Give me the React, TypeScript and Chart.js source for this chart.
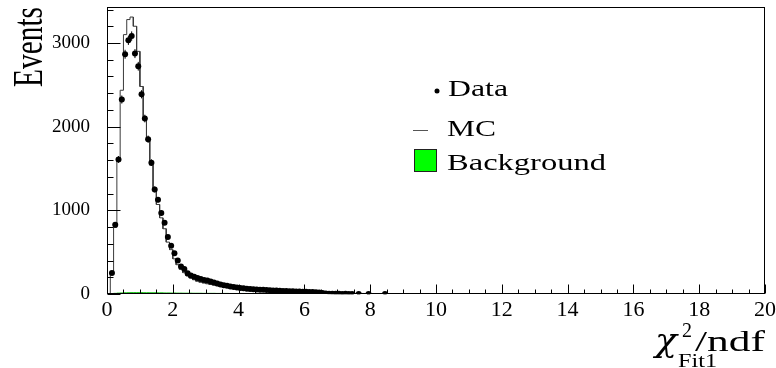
import React, { useEffect, useRef } from "react";
import { Chart, registerables } from "chart.js";

Chart.register(...registerables);

// ---- Data ----
const X_MIN = 0;
const X_MAX = 20;
const BIN_WIDTH = 0.1;
const Y_MAX = 3430;
const X_TICKS = [0, 2, 4, 6, 8, 10, 12, 14, 16, 18, 20];
const Y_TICKS = [0, 1000, 2000, 3000];

// Data counts per 0.1-wide bin, 0..20 (200 bins)
const DATA_COUNTS = [
  0, 250, 827, 1608, 2324, 2865, 3032, 3083, 2873, 2722,
  2387, 2097, 1850, 1570, 1250, 1126, 968, 853, 680, 578,
  486, 400, 330, 300, 247, 222, 205, 190, 178, 168,
  160, 148, 136, 125, 115, 106, 98, 90, 83, 77,
  72, 68, 64, 61, 58, 55, 52, 50, 47, 45,
  43, 41, 39, 37, 35, 34, 32, 31, 29, 28,
  27, 25, 23, 21, 18, 12, 6, 4, 3, 2,
  2, 1, 2, 1, 1, 0, 1, 0, 0, 1,
  0, 0, 0, 0, 1, 0, 0, 0, 0, 0,
  0, 0, 0, 0, 0, 0, 0, 0, 0, 0,
  0, 0, 0, 0, 0, 0, 0, 0, 0, 0,
  0, 0, 0, 0, 0, 0, 0, 0, 0, 0,
  0, 0, 0, 0, 0, 0, 0, 0, 0, 0,
  0, 0, 0, 0, 0, 0, 0, 0, 0, 0,
  0, 0, 0, 0, 0, 0, 0, 0, 0, 0,
  0, 0, 0, 0, 0, 0, 0, 0, 0, 0,
  0, 0, 0, 0, 0, 0, 0, 0, 0, 0,
  0, 0, 0, 0, 0, 0, 0, 0, 0, 0,
  0, 0, 0, 0, 0, 0, 0, 0, 0, 0,
  0, 0, 0, 0, 0, 0, 0, 0, 0, 0,
];

// MC prediction per bin
const MC_COUNTS = [
  0, 266, 796, 1600, 2435, 3100, 3280, 3310, 3200, 2900,
  2480, 2120, 1830, 1540, 1260, 1070, 910, 780, 620, 530,
  420, 350, 295, 255, 215, 190, 170, 152, 140, 130,
  122, 114, 106, 99, 92, 86, 80, 74, 69, 64,
  60, 56, 52, 49, 46, 43, 41, 39, 37, 35,
  33, 31, 30, 28, 27, 25, 24, 23, 22, 21,
  20, 19, 18, 17, 16, 15, 14, 13, 12, 11,
  10, 9.5, 9, 8.5, 8, 7.5, 7, 6.5, 6, 5.5,
  5, 5, 4.5, 4.5, 4, 4, 3.5, 3.5, 3, 3,
  3, 2.5, 2.5, 2.5, 2, 2, 2, 2, 1.5, 1.5,
  1.5, 1.5, 1.4, 1.4, 1.3, 1.3, 1.2, 1.2, 1.1, 1.1,
  1, 1, 1, 0.9, 0.9, 0.9, 0.8, 0.8, 0.8, 0.7,
  0.7, 0.7, 0.7, 0.6, 0.6, 0.6, 0.6, 0.5, 0.5, 0.5,
  0.5, 0.5, 0.4, 0.4, 0.4, 0.4, 0.4, 0.4, 0.3, 0.3,
  0.3, 0.3, 0.3, 0.3, 0.3, 0.3, 0.2, 0.2, 0.2, 0.2,
  0.2, 0.2, 0.2, 0.2, 0.2, 0.2, 0.2, 0.1, 0.1, 0.1,
  0.1, 0.1, 0.1, 0.1, 0.1, 0.1, 0.1, 0.1, 0.1, 0.1,
  0.1, 0.1, 0.1, 0.1, 0.1, 0.1, 0.1, 0.1, 0.1, 0.1,
  0.1, 0.1, 0.1, 0.1, 0.1, 0.1, 0.1, 0.1, 0.1, 0.1,
  0.1, 0.1, 0.1, 0.1, 0.1, 0.1, 0.1, 0.1, 0.1, 0.1,
];

// Background per bin (only the first few units are non-zero)
const BKG_COUNTS = [
  0, 4, 8, 11, 13, 15, 16, 17, 17, 17,
  17, 16, 16, 15, 15, 14, 14, 13, 13, 12,
  12, 11, 11, 10, 10, 10, 9, 9, 9, 8,
  8, 8, 8, 7, 7, 7, 7, 6, 6, 6,
  6, 6, 5, 5, 5, 5, 5, 5, 4, 4,
  4, 4, 4, 4, 3, 3, 3, 3, 3, 3,
  2, 2, 2, 1, 1, 1,
];

const LEGEND_LABELS = ["Data", "MC", "Background"];
const Y_TITLE = "Events";
const X_TITLE_MAIN = "χ";
const X_TITLE_SUP = "2";
const X_TITLE_SUB = "Fit1";
const X_TITLE_TAIL = "/ndf";

const SERIF = "'Liberation Serif', 'DejaVu Serif', serif";
const GREEN = "#00ff00";

function stepPoints(counts: number[]) {
  const pts: { x: number; y: number }[] = [];
  counts.forEach((v, i) => {
    pts.push({ x: X_MIN + i * BIN_WIDTH, y: v });
    pts.push({ x: X_MIN + (i + 1) * BIN_WIDTH, y: v });
  });
  pts.push({ x: X_MIN + counts.length * BIN_WIDTH, y: 0 });
  return pts;
}

function dataPoints(counts: number[]) {
  const pts: { x: number; y: number }[] = [];
  counts.forEach((v, i) => {
    if (v > 0) pts.push({ x: X_MIN + (i + 0.5) * BIN_WIDTH, y: v });
  });
  return pts;
}

function fitText(
  ctx: CanvasRenderingContext2D,
  text: string,
  x: number,
  y: number,
  font: string,
  width: number
) {
  ctx.save();
  ctx.font = font;
  const w = ctx.measureText(text).width;
  ctx.translate(x, y);
  ctx.scale(width / w, 1);
  ctx.textAlign = "left";
  ctx.textBaseline = "alphabetic";
  ctx.fillStyle = "#000";
  ctx.fillText(text, 0, 0);
  ctx.restore();
}

const decorPlugin = {
  id: "decor",
  afterDatasetsDraw(chart: any) {
    const ctx: CanvasRenderingContext2D = chart.ctx;
    const xs = chart.scales.x;
    const ys = chart.scales.y;
    const area = chart.chartArea;

    // error bars for data
    ctx.save();
    ctx.strokeStyle = "#000";
    ctx.lineWidth = 1;
    DATA_COUNTS.forEach((v, i) => {
      if (v <= 0) return;
      const c = X_MIN + (i + 0.5) * BIN_WIDTH;
      const px = xs.getPixelForValue(c);
      const py = ys.getPixelForValue(v);
      const e = Math.sqrt(v);
      ctx.beginPath();
      ctx.moveTo(px, ys.getPixelForValue(v + e));
      ctx.lineTo(px, ys.getPixelForValue(Math.max(0, v - e)));
      ctx.moveTo(xs.getPixelForValue(c - BIN_WIDTH / 2), py);
      ctx.lineTo(xs.getPixelForValue(c + BIN_WIDTH / 2), py);
      ctx.stroke();
    });
    ctx.restore();

    // frame
    ctx.save();
    ctx.strokeStyle = "#000";
    ctx.lineWidth = 1;
    const L = Math.round(area.left) + 0.5;
    const R = Math.round(area.right) - 0.5;
    const T = Math.round(area.top) + 0.5;
    const B = Math.round(area.bottom) - 0.5;
    ctx.strokeRect(L, T, R - L, B - T);

    // y ticks (inward): major every 1000, minor every 200
    ctx.beginPath();
    for (let k = 0; k * 200 <= Y_MAX; k++) {
      const v = k * 200;
      const py = Math.round(ys.getPixelForValue(v)) + 0.5;
      const major = k % 5 === 0;
      ctx.moveTo(L, py);
      ctx.lineTo(L + (major ? 13 : 6), py);
    }
    // x ticks (inward): major every 2, minor every 0.5
    for (let k = 0; k <= (X_MAX - X_MIN) * 2; k++) {
      const v = X_MIN + k * 0.5;
      const px = Math.round(xs.getPixelForValue(v)) + 0.5;
      const major = k % 4 === 0;
      ctx.moveTo(px, B);
      ctx.lineTo(px, B - (major ? 9 : 4));
    }
    ctx.stroke();
    ctx.restore();

    // y title rotated
    ctx.save();
    ctx.font = `34px ${SERIF}`;
    const w = ctx.measureText(Y_TITLE).width;
    ctx.translate(41.5, 87);
    ctx.rotate(-Math.PI / 2);
    ctx.scale(80 / w, 1.22);
    ctx.fillStyle = "#000";
    ctx.textAlign = "left";
    ctx.textBaseline = "alphabetic";
    ctx.fillText(Y_TITLE, 0, 0);
    ctx.restore();

    // x title: chi^2_Fit1 /ndf
    fitText(ctx, X_TITLE_MAIN, 655, 351, `italic 32px 'DejaVu Serif', serif`, 22);
    fitText(ctx, X_TITLE_SUP, 682, 337, `21px ${SERIF}`, 10);
    fitText(ctx, X_TITLE_SUB, 678, 367, `19px ${SERIF}`, 39);
    fitText(ctx, X_TITLE_TAIL, 695, 351, `29px ${SERIF}`, 70);

    // legend
    ctx.save();
    ctx.fillStyle = "#000";
    ctx.beginPath();
    ctx.arc(437, 91, 2.5, 0, Math.PI * 2);
    ctx.fill();
    ctx.strokeStyle = "#555";
    ctx.lineWidth = 1;
    ctx.beginPath();
    ctx.moveTo(413, 130.5);
    ctx.lineTo(428, 130.5);
    ctx.stroke();
    ctx.fillStyle = GREEN;
    ctx.fillRect(414, 149, 23, 23);
    ctx.strokeStyle = "#222";
    ctx.strokeRect(414.5, 149.5, 22, 22);
    ctx.restore();
    fitText(ctx, LEGEND_LABELS[0], 448, 96, `24px ${SERIF}`, 60);
    fitText(ctx, LEGEND_LABELS[1], 447, 136, `24px ${SERIF}`, 49);
    fitText(ctx, LEGEND_LABELS[2], 447, 170, `24px ${SERIF}`, 159);
  },
};

export default function App() {
  const ref = useRef<HTMLCanvasElement | null>(null);

  useEffect(() => {
    if (!ref.current) return;
    const chart = new Chart(ref.current, {
      type: "scatter",
      data: {
        datasets: [
          {
            type: "line",
            label: LEGEND_LABELS[1],
            data: stepPoints(MC_COUNTS),
            borderColor: "#3a3a3a",
            borderWidth: 1,
            fill: false,
            pointRadius: 0,
            tension: 0,
            order: 3,
          } as any,
          {
            type: "line",
            label: LEGEND_LABELS[2],
            data: stepPoints(BKG_COUNTS),
            borderColor: "#22c022",
            backgroundColor: GREEN,
            borderWidth: 1,
            fill: "origin",
            pointRadius: 0,
            tension: 0,
            order: 2,
          } as any,
          {
            type: "scatter",
            label: LEGEND_LABELS[0],
            data: dataPoints(DATA_COUNTS),
            pointRadius: 3,
            pointBackgroundColor: "#000",
            pointBorderColor: "#000",
            pointBorderWidth: 0,
            order: 1,
          } as any,
        ],
      },
      options: {
        animation: false,
        responsive: false,
        events: [],
        layout: { padding: { top: 7, right: 11, left: 0, bottom: 0 } },
        plugins: {
          legend: { display: false },
          tooltip: { enabled: false },
        },
        scales: {
          x: {
            type: "linear",
            min: X_MIN,
            max: X_MAX,
            grid: { display: false, drawTicks: false, tickLength: 0 },
            border: { display: false },
            afterBuildTicks(s: any) {
              s.ticks = X_TICKS.map((v) => ({ value: v }));
            },
            ticks: {
              autoSkip: false,
              maxRotation: 0,
              minRotation: 0,
              padding: 3,
              color: "#000",
              font: { family: SERIF, size: 22 },
              callback: (v: any) => String(v),
            },
            afterFit(s: any) {
              s.height = 74;
              s.paddingLeft = 0;
              s.paddingRight = 0;
            },
          },
          y: {
            type: "linear",
            min: 0,
            max: Y_MAX,
            grid: { display: false, drawTicks: false, tickLength: 0 },
            border: { display: false },
            afterBuildTicks(s: any) {
              s.ticks = Y_TICKS.map((v) => ({ value: v }));
            },
            ticks: {
              autoSkip: false,
              padding: 17,
              color: "#000",
              font: { family: SERIF, size: 19 },
              callback: (v: any) => String(v),
            },
            afterFit(s: any) {
              s.width = 107;
              s.paddingTop = 0;
              s.paddingBottom = 0;
            },
          },
        },
      },
      plugins: [decorPlugin],
    });
    return () => chart.destroy();
  }, []);

  return (
    <div style={{ position: "absolute", left: 0, top: 0, width: 776, height: 368, background: "#fff" }}>
      <canvas ref={ref} width={776} height={368} />
    </div>
  );
}
